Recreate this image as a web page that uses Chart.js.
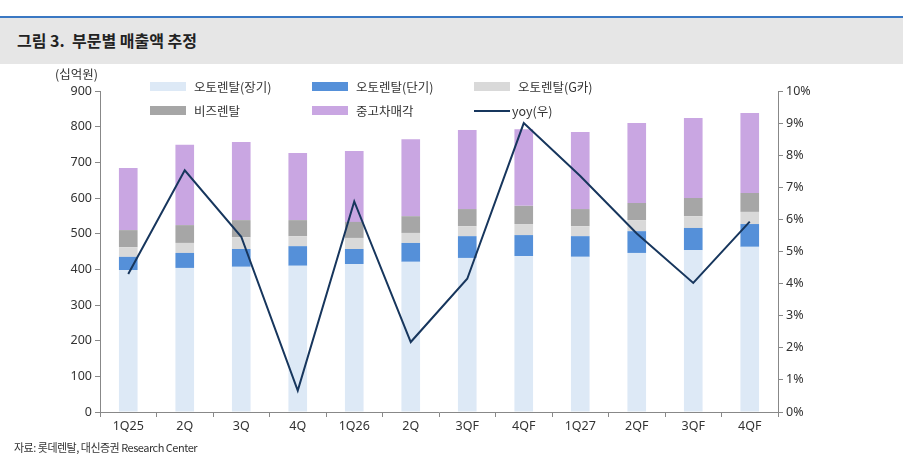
<!DOCTYPE html>
<html><head><meta charset="utf-8">
<script src="https://cdn.jsdelivr.net/npm/chart.js@4"></script>
<style>
body{margin:0;width:903px;height:467px;background:#fff;font-family:"Noto Sans CJK KR","Noto Sans",sans-serif;position:relative;overflow:hidden}
#hdr{position:absolute;left:0;top:16px;width:903px;height:46px;background:#e6e6e6;border-top:2px solid #3a78c3}
#hdr span{position:absolute;left:17px;top:10px;font-size:16px;font-weight:bold;color:#222}
#cw{position:absolute;left:0;top:62px;width:903px;height:380px}
.t{position:absolute;font-size:12.5px;color:#333;white-space:nowrap}
.lg{position:absolute;font-size:12.5px;color:#333;white-space:nowrap;display:flex;align-items:center}
.sw{display:inline-block;width:36px;height:9px;margin-right:8px}
</style></head><body>
<div id="hdr"><span>그림 3.&nbsp; 부문별 매출액 추정</span></div>
<div id="cw"><canvas id="c"></canvas></div>
<div class="t" style="left:55px;top:64px">(십억원)</div>
<div class="t" style="left:14px;top:439px;font-size:11px;letter-spacing:-0.5px">자료: 롯데렌탈, 대신증권 Research Center</div>
<div id="legend"></div>
<script>
const categories=["1Q25","2Q","3Q","4Q","1Q26","2Q","3QF","4QF","1Q27","2QF","3QF","4QF"];
const autoLong=[398,404,407,410,415,421,432,437,435,446,454,463];
const autoShort=[37,42,50,55,42,53,61,59,58,61,62,64];
const autoG=[27,28,33,28,31,28,28,31,28,31,33,34];
const biz=[48,50,48,45,45,47,48,51,48,48,51,53];
const usedCar=[174,225,219,188,199,216,222,215,216,224,224,224];
const yoy=[4.3,7.53,5.46,0.67,6.56,2.18,4.15,9.0,7.35,5.56,4.02,5.93];
const leftTicks=[0,100,200,300,400,500,600,700,800,900];
const rightTicks=[0,1,2,3,4,5,6,7,8,9,10];
const names=["오토렌탈(장기)","오토렌탈(단기)","오토렌탈(G카)","비즈렌탈","중고차매각","yoy(우)"];
const colors=["#dde9f6","#5590d9","#d9d9d9","#a6a6a6","#c9a6e2","#17365d"];

const lgPos=[[150,77],[312,77],[474,77],[150,101],[312,101],[474,101]];
const L=document.getElementById('legend');
names.forEach((n,i)=>{const d=document.createElement('div');d.className='lg';d.style.left=lgPos[i][0]+'px';d.style.top=lgPos[i][1]+'px';
const s=document.createElement('span');s.className='sw';s.style.background=colors[i];if(i==5){s.style.height='2px';s.style.marginRight='2px';}
d.appendChild(s);d.appendChild(document.createTextNode(n));L.appendChild(d);});

const barSets=[autoLong,autoShort,autoG,biz,usedCar];
const datasets=barSets.map((d,i)=>({type:'bar',label:names[i],data:d,backgroundColor:colors[i],stack:'s',yAxisID:'y',barPercentage:0.33,categoryPercentage:1,order:2}));
datasets.push({type:'line',label:names[5],data:yoy,borderColor:colors[5],borderWidth:2,pointRadius:0,tension:0,yAxisID:'y2',order:1});
new Chart(document.getElementById('c'),{data:{labels:categories,datasets},
options:{responsive:true,maintainAspectRatio:false,animation:false,
layout:{padding:{top:29,left:0,right:0,bottom:0}},
plugins:{legend:{display:false},tooltip:{enabled:false}},
scales:{
x:{stacked:true,grid:{display:true,drawOnChartArea:false,offset:true,color:'#888',tickLength:5},border:{color:'#888'},ticks:{color:'#333',font:{size:12.5,family:'Noto Sans'},padding:2},afterFit:s=>{s.height=30}},
y:{stacked:true,min:0,max:900,afterBuildTicks:s=>{s.ticks=leftTicks.map(v=>({value:v}))},grid:{drawOnChartArea:false,color:'#888',tickLength:5},border:{color:'#888'},ticks:{color:'#333',font:{size:12.5,family:'Noto Sans'}},afterFit:s=>{s.width=100}},
y2:{position:'right',min:0,max:10,afterBuildTicks:s=>{s.ticks=rightTicks.map(v=>({value:v}))},grid:{drawOnChartArea:false,color:'#888',tickLength:5},border:{color:'#888'},ticks:{color:'#333',font:{size:12.5,family:'Noto Sans'},callback:v=>v+'%'},afterFit:s=>{s.width=125}}
}}});
</script></body></html>
